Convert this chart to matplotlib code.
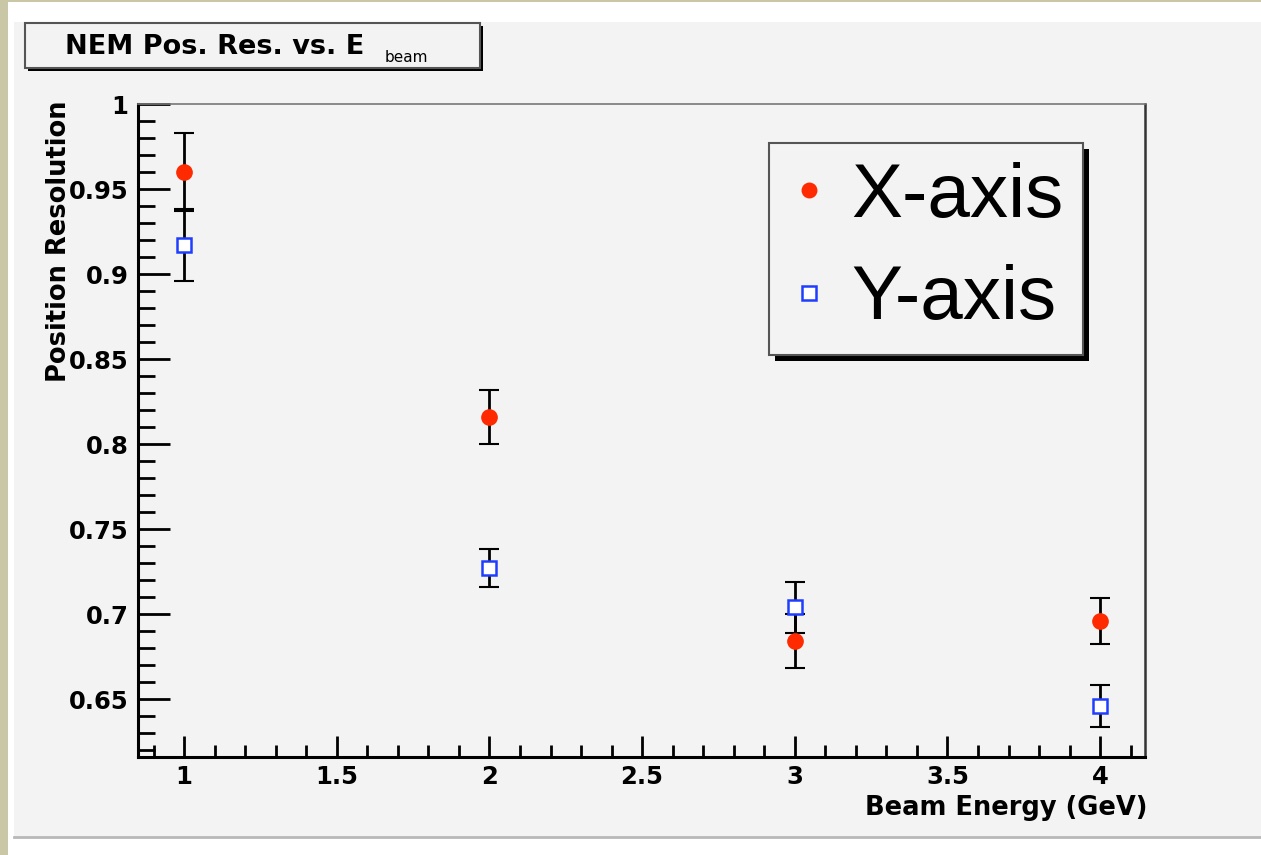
import matplotlib.pyplot as plt
from matplotlib.patches import Rectangle
from matplotlib.ticker import MultipleLocator, FuncFormatter

# beam energies (GeV) and measured position resolutions
energy = [1, 2, 3, 4]
res_x = [0.960, 0.816, 0.684, 0.696]
err_x = [0.023, 0.016, 0.016, 0.0135]
res_y = [0.917, 0.727, 0.704, 0.646]
err_y = [0.021, 0.011, 0.015, 0.0125]

W, H = 1261, 855
fig = plt.figure(figsize=(W / 100, H / 100), dpi=100)
fig.patch.set_facecolor('white')

# background canvas drawn in pixel units
bg = fig.add_axes([0, 0, 1, 1], zorder=-5)
bg.set_xlim(0, W)
bg.set_ylim(H, 0)
bg.axis('off')
bg.add_patch(Rectangle((0, 0), 8, H, color='#c9c7a5', lw=0))
bg.add_patch(Rectangle((0, 0), W, 2.5, color='#c9c7a5', lw=0))
bg.add_patch(Rectangle((14, 22), W - 14, 815, color='#f3f3f3', lw=0))
bg.plot([14, W], [837, 837], color='#b8b8b8', lw=2)

# title box with shadow
bg.add_patch(Rectangle((28, 26), 455, 45, facecolor='black', lw=0))
bg.add_patch(Rectangle((25, 23), 455, 45, facecolor='#f3f3f3', edgecolor='#555555', lw=1.5))
bg.text(65, 54, 'NEM Pos. Res. vs. E', fontsize=19.5, fontweight='bold',
        family='DejaVu Sans', ha='left', va='baseline')
bg.text(385, 62, 'beam', fontsize=11, family='DejaVu Sans', ha='left', va='baseline')

ax = fig.add_axes([138 / W, 1 - 757 / H, 1007 / W, 653 / H])
ax.set_facecolor('none')

ax.errorbar(energy, res_x, yerr=err_x, fmt='none', ecolor='black',
            elinewidth=2, capsize=7, capthick=1.5, zorder=2)
ax.errorbar(energy, res_y, yerr=err_y, fmt='none', ecolor='black',
            elinewidth=2, capsize=7, capthick=1.5, zorder=2)
ax.plot(energy, res_x, 'o', color='#ff2a00', markersize=11, label='X-axis', zorder=3)
ax.plot(energy, res_y, 's', markerfacecolor='white', markeredgecolor='#1f3dff',
        markeredgewidth=1.8, markersize=10.5, label='Y-axis', zorder=3)

ax.set_xlim(0.849, 4.147)
ax.set_ylim(0.6159, 1.0)

ax.xaxis.set_major_locator(MultipleLocator(0.5))
ax.xaxis.set_minor_locator(MultipleLocator(0.1))
ax.yaxis.set_major_locator(MultipleLocator(0.05))
ax.yaxis.set_minor_locator(MultipleLocator(0.01))
fmt = FuncFormatter(lambda v, p: '%g' % round(v, 3))
ax.xaxis.set_major_formatter(fmt)
ax.yaxis.set_major_formatter(fmt)

ax.tick_params(axis='both', which='both', direction='in', color='black')
ax.tick_params(axis='y', which='major', length=23, width=2, pad=7)
ax.tick_params(axis='y', which='minor', length=12, width=2)
ax.tick_params(axis='x', which='major', length=15, width=2, pad=6)
ax.tick_params(axis='x', which='minor', length=9, width=2)
for lab in ax.get_xticklabels() + ax.get_yticklabels():
    lab.set_fontsize(17.5)
    lab.set_fontweight('bold')
    lab.set_family('DejaVu Sans')

ax.spines['left'].set_linewidth(2.2)
ax.spines['bottom'].set_linewidth(2.2)
ax.spines['top'].set_linewidth(1.2)
ax.spines['top'].set_color('#777777')
ax.spines['right'].set_linewidth(1.8)
ax.spines['right'].set_color('#333333')

ax.set_xlabel('Beam Energy (GeV)', loc='right', fontsize=18.5, fontweight='bold',
              family='DejaVu Sans')
ax.xaxis.set_label_coords(1.002, -0.058)
ax.set_ylabel('Position Resolution', loc='top', fontsize=18.5, fontweight='bold',
              family='DejaVu Sans')
ax.yaxis.set_label_coords(-0.066, 1.006)

leg = ax.legend(loc='upper right', bbox_to_anchor=(1083 / W, 1 - 143 / H),
                bbox_transform=fig.transFigure, prop={'family': 'Liberation Sans', 'size': 55},
                frameon=True, fancybox=False, borderpad=0.25, handlelength=0.55,
                handletextpad=0.28, labelspacing=0.41, borderaxespad=0, markerscale=0.95)
leg.get_frame().set_facecolor('#f3f3f3')
leg.get_frame().set_edgecolor('#555555')
leg.get_frame().set_linewidth(1.5)
leg.get_frame().set_alpha(1)

# shadow behind the legend box, drawn on the background layer
fig.canvas.draw()
bb = leg.get_window_extent()
bg.add_patch(Rectangle((bb.x0 + 6, H - bb.y1 + 6), bb.width, bb.height,
                       facecolor='black', lw=0))

fig.savefig('out.png', dpi=100)
